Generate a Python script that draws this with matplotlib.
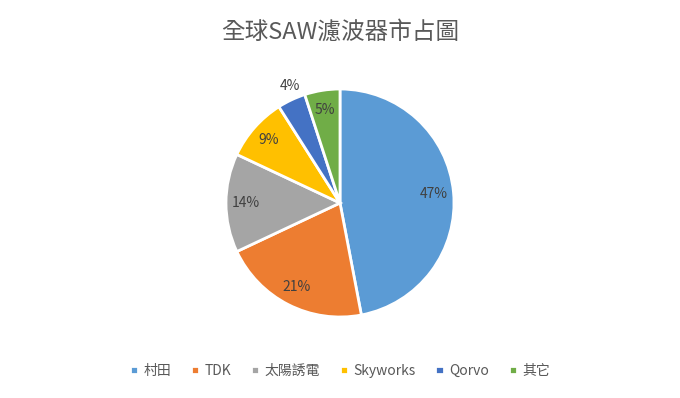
import matplotlib.pyplot as plt

plt.rcParams['font.family'] = ['Noto Sans CJK TC', 'DejaVu Sans']

# données
labels = ['村田', 'TDK', '太陽誘電', 'Skyworks', 'Qorvo', '其它']
shares = [47, 21, 14, 9, 4, 5]
colors = ['#5B9BD5', '#ED7D31', '#A5A5A5', '#FFC000', '#4472C4', '#70AD47']

fig = plt.figure(figsize=(6.8, 3.98), dpi=100)
ax = fig.add_axes([(340 - 142.5) / 680, (195 - 142.5) / 398, 285 / 680, 285 / 398])

wedges, texts, autotexts = ax.pie(
    shares, colors=colors, startangle=90, counterclock=False,
    autopct='%d%%', pctdistance=0.83,
    wedgeprops=dict(edgecolor='white', linewidth=2),
    textprops=dict(color='#404040', fontsize=10))
ax.set_xlim(-1.25, 1.25)
ax.set_ylim(-1.25, 1.25)
ax.set_aspect('equal')

# petite part : étiquette à l'extérieur
autotexts[4].set_position((-0.44, 1.03))

fig.text(0.5, 0.92, '全球SAW濾波器市占圖', ha='center', va='center',
         fontsize=17, color='#595959')

fig.legend(wedges, labels, loc='center', bbox_to_anchor=(0.5, 0.068), ncol=6,
           frameon=False, fontsize=10, handlelength=0.6, handleheight=0.6,
           handletextpad=0.4, columnspacing=1.4, labelcolor='#595959')

fig.savefig('out.png', dpi=100, facecolor='white')
